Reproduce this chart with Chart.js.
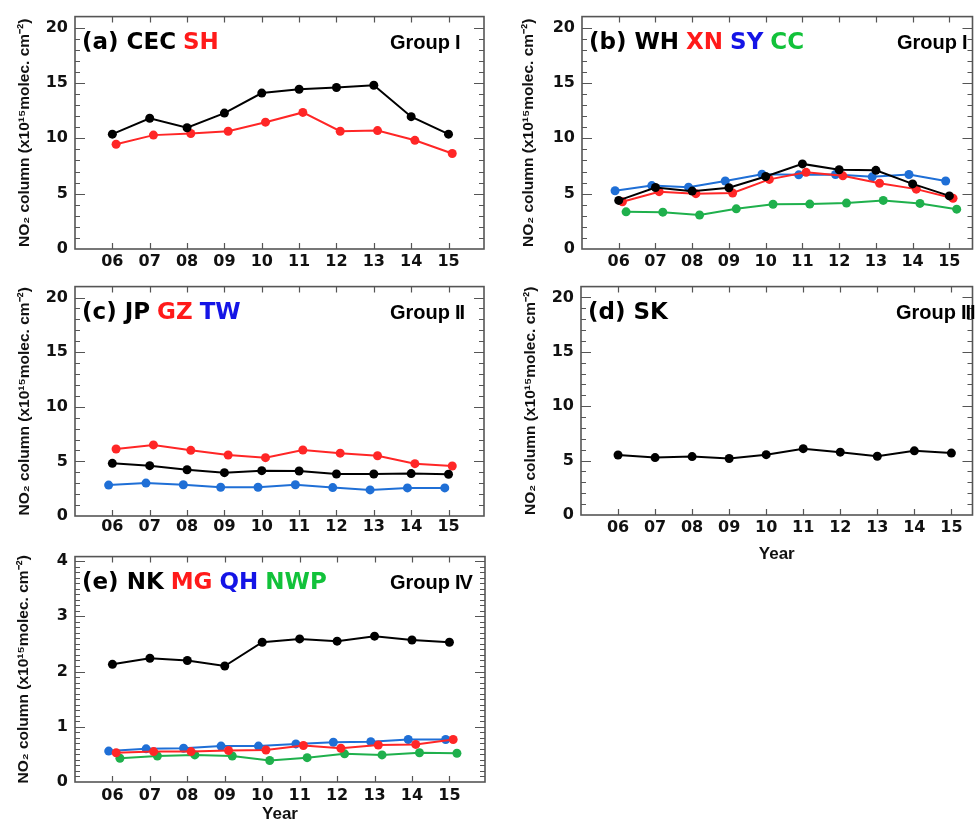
<!DOCTYPE html>
<html>
<head>
<meta charset="utf-8">
<script src="https://cdn.jsdelivr.net/npm/chart.js@4/dist/chart.umd.min.js"></script>
<style>
  body { margin: 0; background: #fff; width: 977px; height: 825px; position: relative; overflow: hidden; }
  canvas { position: absolute; }
</style>
</head>
<body>
<canvas id="pa" width="490" height="270" style="left:0;top:0"></canvas>
<canvas id="pb" width="487" height="270" style="left:490px;top:0"></canvas>
<canvas id="pc" width="490" height="270" style="left:0;top:270px"></canvas>
<canvas id="pd" width="487" height="300" style="left:490px;top:270px"></canvas>
<canvas id="pe" width="490" height="285" style="left:0;top:540px"></canvas>
<script>
// years 2006-2015
const years = [6, 7, 8, 9, 10, 11, 12, 13, 14, 15];
const yearLabels = ['06', '07', '08', '09', '10', '11', '12', '13', '14', '15'];
const yTicks20 = [0, 5, 10, 15, 20];
const yTicks4 = [0, 1, 2, 3, 4];

// (a) Group I
const cec = [10.38, 11.81, 10.96, 12.28, 14.09, 14.44, 14.59, 14.80, 11.96, 10.38];
const sh  = [9.47, 10.29, 10.44, 10.64, 11.46, 12.34, 10.64, 10.70, 9.82, 8.63];
// (b) Group I
const wh = [4.39, 5.56, 5.23, 5.53, 6.55, 7.69, 7.16, 7.11, 5.88, 4.80];
const xn = [4.27, 5.18, 5.00, 5.06, 6.29, 6.93, 6.61, 5.94, 5.41, 4.59];
const sy = [5.26, 5.73, 5.58, 6.14, 6.75, 6.70, 6.73, 6.52, 6.73, 6.14];
const cc = [3.36, 3.33, 3.07, 3.63, 4.04, 4.06, 4.15, 4.39, 4.12, 3.60];
// (c) Group II
const jp = [4.82, 4.61, 4.23, 3.97, 4.15, 4.12, 3.85, 3.85, 3.88, 3.82];
const gz = [6.13, 6.51, 6.01, 5.58, 5.34, 6.04, 5.75, 5.52, 4.79, 4.58];
const tw = [2.83, 3.01, 2.86, 2.63, 2.63, 2.86, 2.60, 2.39, 2.57, 2.57];
// (d) Group III
const sk = [5.52, 5.28, 5.37, 5.20, 5.55, 6.10, 5.78, 5.40, 5.90, 5.69];
// (e) Group IV
const nk  = [2.13, 2.24, 2.20, 2.10, 2.53, 2.59, 2.55, 2.64, 2.57, 2.53];
const mg  = [0.53, 0.55, 0.55, 0.57, 0.58, 0.66, 0.61, 0.67, 0.68, 0.77];
const qh  = [0.56, 0.60, 0.61, 0.65, 0.65, 0.69, 0.72, 0.73, 0.77, 0.77];
const nwp = [0.43, 0.47, 0.49, 0.47, 0.39, 0.44, 0.51, 0.49, 0.53, 0.52];

const BLACK = '#000000', RED = '#ff2626', BLUE = '#1f6fd6', GREEN = '#1fb04c';
const RED_T = '#ff1a1a', BLUE_T = '#1414e6', GREEN_T = '#12c23a';
const yTitle = 'NO\u2082 column (x10\u00b9\u2075molec. cm\u207b\u00b2)';

function line(vals, color, off) {
  return {
    data: vals.map((v, i) => ({ x: years[i] + off, y: v })),
    borderColor: color,
    backgroundColor: color,
    borderWidth: 2,
    pointRadius: 4.5,
    pointBorderWidth: 0,
    pointHoverRadius: 4.5
  };
}

// box, inward ticks and panel labels
const frame = {
  id: 'frame',
  afterDraw(chart, args, o) {
    const { ctx, chartArea: a, scales: { x, y } } = chart;
    ctx.save();
    ctx.strokeStyle = '#555';
    ctx.lineWidth = 1.2;
    ctx.beginPath();
    const n = Math.round(y.max / o.minor);
    for (let k = 1; k < n; k++) {
      const v = k * o.minor;
      const py = Math.round(y.getPixelForValue(v)) + 0.5;
      const major = Math.abs(v / o.major - Math.round(v / o.major)) < 1e-6;
      const len = major ? 10 : 5;
      ctx.moveTo(a.left, py); ctx.lineTo(a.left + len, py);
      ctx.moveTo(a.right, py); ctx.lineTo(a.right - len, py);
    }
    years.forEach(v => {
      const px = Math.round(x.getPixelForValue(v)) + 0.5;
      ctx.moveTo(px, a.top); ctx.lineTo(px, a.top + 6);
      ctx.moveTo(px, a.bottom); ctx.lineTo(px, a.bottom - 6);
    });
    ctx.stroke();
    ctx.lineWidth = 1.6;
    ctx.strokeRect(a.left, a.top, a.width, a.height);

    // panel label, several colours
    ctx.font = 'bold 23px "DejaVu Sans", sans-serif';
    ctx.textBaseline = 'alphabetic';
    ctx.textAlign = 'left';
    let tx = a.left + 7;
    const ty = a.top + 32;
    o.parts.forEach(([t, c]) => {
      ctx.fillStyle = c;
      ctx.fillText(t, tx, ty);
      tx += ctx.measureText(t).width + 7;
    });
    // group name, roman numeral set tight
    ctx.font = 'bold 20px "Liberation Sans", Arial, sans-serif';
    ctx.fillStyle = '#000';
    let gx = a.left + 315;
    ctx.fillText('Group', gx, ty);
    gx += ctx.measureText('Group').width + 5;
    for (const ch of o.group) {
      ctx.fillText(ch, gx, ty);
      gx += ctx.measureText(ch).width - 1;
    }
    ctx.restore();
  }
};

function makeChart(id, datasets, cfg) {
  new Chart(document.getElementById(id), {
    type: 'line',
    data: { datasets },
    plugins: [frame],
    options: {
      responsive: false,
      animation: false,
      layout: { padding: cfg.pad },
      plugins: {
        legend: { display: false },
        tooltip: { enabled: false },
        frame: { parts: cfg.parts, group: cfg.group, minor: cfg.minor, major: cfg.major }
      },
      scales: {
        x: {
          type: 'linear',
          min: 5,
          max: cfg.xmax,
          grid: { display: false, drawTicks: false },
          border: { display: false },
          afterBuildTicks: s => { s.ticks = years.map(v => ({ value: v })); },
          afterFit: s => { s.height = cfg.xh; },
          ticks: {
            autoSkip: false,
            maxRotation: 0,
            padding: cfg.xpad,
            color: '#111',
            font: { family: 'DejaVu Sans', weight: 'bold', size: 16 },
            callback: (v, i) => yearLabels[i]
          },
          title: {
            display: !!cfg.xTitle,
            text: 'Year',
            color: '#111',
            padding: { top: 0, bottom: cfg.xTitlePad || 0 },
            font: { family: 'Liberation Sans', weight: 'bold', size: 17 }
          }
        },
        y: {
          min: 0,
          max: cfg.ymax,
          grid: { display: false, drawTicks: false },
          border: { display: false },
          afterBuildTicks: s => { s.ticks = cfg.yTicks.map(v => ({ value: v })); },
          afterFit: s => { s.width = cfg.yw; },
          ticks: {
            padding: 7,
            color: '#111',
            font: { family: 'DejaVu Sans', weight: 'bold', size: 16 }
          },
          title: {
            display: true,
            text: yTitle,
            color: '#111',
            padding: { top: cfg.ytp, bottom: 0 },
            font: { family: 'Liberation Sans', weight: 'bold', size: 15.5 }
          }
        }
      }
    }
  });
}

makeChart('pa', [line(cec, BLACK, 0), line(sh, RED, 0.1)], {
  pad: { left: 0, top: 10, right: 6, bottom: 0 }, yw: 75, ytp: 15, xh: 21, xpad: 3,
  xmax: 15.95, ymax: 21, yTicks: yTicks20, minor: 1, major: 5,
  parts: [['(a) CEC', BLACK], ['SH', RED_T]], group: 'I'
});

makeChart('pb', [line(wh, BLACK, 0), line(xn, RED, 0.1), line(sy, BLUE, -0.1), line(cc, GREEN, 0.2)], {
  pad: { left: 0, top: 10, right: 2, bottom: 0 }, yw: 92, ytp: 29, xh: 21, xpad: 3,
  xmax: 15.63, ymax: 21, yTicks: yTicks20, minor: 1, major: 5,
  parts: [['(b) WH', BLACK], ['XN', RED_T], ['SY', BLUE_T], ['CC', GREEN_T]], group: 'I'
});

makeChart('pc', [line(jp, BLACK, 0), line(gz, RED, 0.1), line(tw, BLUE, -0.1)], {
  pad: { left: 0, top: 5, right: 6, bottom: 0 }, yw: 75, ytp: 15, xh: 24, xpad: 1,
  xmax: 15.95, ymax: 21, yTicks: yTicks20, minor: 1, major: 5,
  parts: [['(c) JP', BLACK], ['GZ', RED_T], ['TW', BLUE_T]], group: 'II'
});

makeChart('pd', [line(sk, BLACK, 0)], {
  pad: { left: 0, top: 6, right: 1, bottom: 0 }, yw: 91, ytp: 31, xh: 55, xpad: 3,
  xmax: 15.57, ymax: 21, yTicks: yTicks20, minor: 1, major: 5, xTitle: true, xTitlePad: 5,
  parts: [['(d) SK', BLACK]], group: 'III'
});

makeChart('pe', [line(nk, BLACK, 0), line(mg, RED, 0.1), line(qh, BLUE, -0.1), line(nwp, GREEN, 0.2)], {
  pad: { left: 0, top: 4, right: 5, bottom: 0 }, yw: 75, ytp: 14, xh: 43, xpad: 4,
  xmax: 15.95, ymax: 4.08, yTicks: yTicks4, minor: 0.1, major: 1, xTitle: true, xTitlePad: 0,
  parts: [['(e) NK', BLACK], ['MG', RED_T], ['QH', BLUE_T], ['NWP', GREEN_T]], group: 'IV'
});
</script>
</body>
</html>
